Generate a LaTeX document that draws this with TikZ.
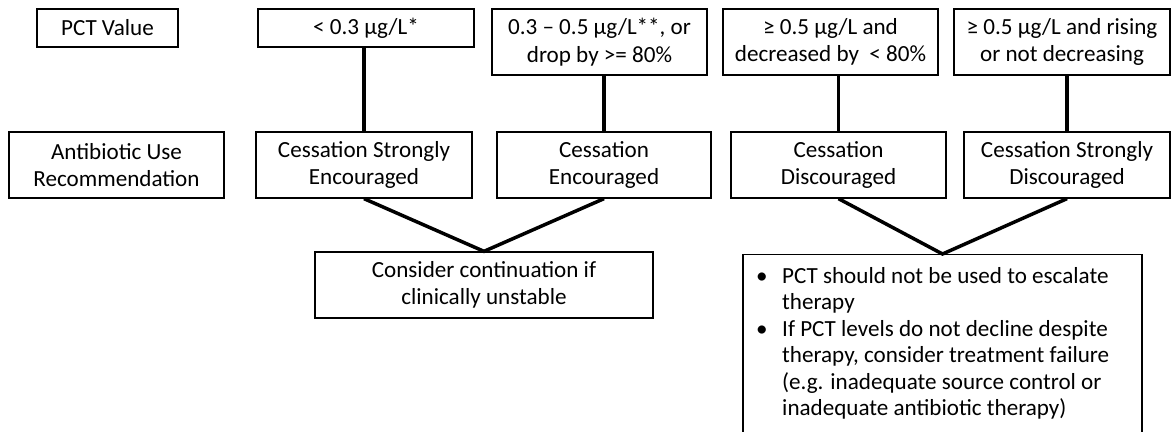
\documentclass[tikz,border=0pt]{standalone}
\usepackage{fontspec}
\setmainfont{Carlito}
\begin{document}
\begin{tikzpicture}[x=1pt,y=-1pt,
  box/.style={draw, line width=1.3pt, inner sep=0pt, align=center,
    font=\fontsize{23.1}{27.5}\selectfont},
  conn/.style={line width=3.5pt}]
\useasboundingbox (0,0) rectangle (1172,431);
\clip (0,0) rectangle (1172,431);
% row 1
\node[box, minimum width=141pt, minimum height=38pt] (pv) at (107.5,28) {PCT Value};
\node[box, minimum width=216pt, minimum height=38pt] (v1) at (366,28) {< 0.3 µg/L*};
\node[box, minimum width=215pt, minimum height=66pt] (v2) at (599.5,42) {0.3 – 0.5 µg/L**, or\\drop by >= 80\%};
\node[box, minimum width=215pt, minimum height=66pt] (v3) at (830.5,42) {≥ 0.5 µg/L and\\decreased by~~< 80\%};
\node[box, minimum width=216pt, minimum height=66pt] (v4) at (1062,42) {≥ 0.5 µg/L and rising\\or not decreasing};
% row 2
\node[box, minimum width=215pt, minimum height=66pt] (ab) at (116.5,165) {Antibiotic Use\\Recommendation};
\node[box, minimum width=216pt, minimum height=66pt] (r1) at (364,165) {Cessation Strongly\\Encouraged};
\node[box, minimum width=214pt, minimum height=66pt] (r2) at (604,165) {Cessation\\Encouraged};
\node[box, minimum width=215pt, minimum height=66pt] (r3) at (838.5,165) {Cessation\\Discouraged};
\node[box, minimum width=206pt, minimum height=66pt] (r4) at (1067,165) {Cessation Strongly\\Discouraged};
% row 3
\node[box, minimum width=338pt, minimum height=66pt] (cc) at (484,285) {Consider continuation if\\clinically unstable};
\node[box, minimum width=399pt, minimum height=220pt, anchor=north] (bl) at (942.5,254) {};
\node[inner sep=0pt, anchor=north west, font=\fontsize{23.1}{26.5}\selectfont] (bt) at (754,264.5)
  {\begin{tabular}{@{}p{28pt}@{}l@{}}
  \hspace*{2pt}• & PCT should not be used to escalate\\
   & therapy\\
  \hspace*{2pt}• & If PCT levels do not decline despite\\
   & therapy, consider treatment failure\\
   & (e.g. inadequate source control or\\
   & inadequate antibiotic therapy)
  \end{tabular}};
% connectors
\draw[conn] (r1.north) -- (r1.north |- v1.south);
\draw[conn] (r2.north) -- (r2.north |- v2.south);
\draw[conn] (r3.north) -- (r3.north |- v3.south);
\draw[conn] (r4.north) -- (r4.north |- v4.south);
\draw[conn] (r1.south) -- (cc.north) -- (r2.south);
\draw[conn] (r3.south) -- (bl.north) -- (r4.south);
\end{tikzpicture}
\end{document}
